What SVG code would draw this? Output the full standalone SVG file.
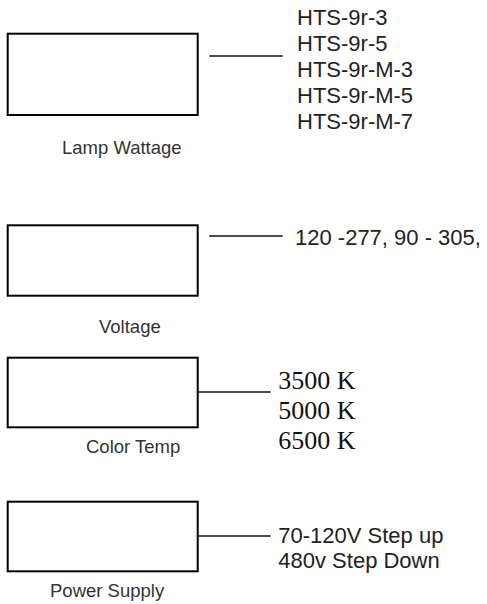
<svg xmlns="http://www.w3.org/2000/svg" width="487" height="604" viewBox="0 0 487 604">
<style>
.box{fill:#fff;stroke:#000;stroke-width:2}
.lbl{font-family:"Liberation Sans",Arial,sans-serif;font-size:18.5px;fill:#333}
.val{font-family:"Liberation Sans",Arial,sans-serif;font-size:22px;fill:#222}
.tmp{font-family:"Liberation Serif","Times New Roman",serif;font-size:26px;fill:#111}
.con{stroke:#111;stroke-width:1.4;fill:none}
</style>
<rect width="487" height="604" fill="#fff"/>
<g id="connectors">
<line class="con" x1="209.3" y1="56" x2="282.7" y2="56"/>
<line class="con" x1="209.3" y1="236" x2="282.7" y2="236"/>
<line class="con" x1="198.7" y1="392" x2="270.7" y2="392"/>
<line class="con" x1="198.7" y1="536" x2="270.7" y2="536"/>
</g>
<g id="lamp-wattage">
<rect class="box" x="7.7" y="33.7" width="190" height="81.3"/>
<text class="lbl" x="62" y="154">Lamp Wattage</text>
</g>
<g id="lamp-models">
<text class="val" x="297" y="25">HTS-9r-3</text>
<text class="val" x="297" y="51">HTS-9r-5</text>
<text class="val" x="297" y="77">HTS-9r-M-3</text>
<text class="val" x="297" y="103">HTS-9r-M-5</text>
<text class="val" x="297" y="128.5">HTS-9r-M-7</text>
</g>
<g id="voltage">
<rect class="box" x="7.7" y="225.3" width="190" height="70.4"/>
<text class="lbl" x="99" y="333">Voltage</text>
</g>
<g id="voltage-values">
<text class="val" x="295" y="245">120 -277, 90 - 305,</text>
</g>
<g id="color-temp">
<rect class="box" x="7.7" y="357.7" width="190" height="69.6"/>
<text class="lbl" x="86" y="453.3">Color Temp</text>
</g>
<g id="color-temp-values">
<text class="tmp" x="278.3" y="389.3">3500 K</text>
<text class="tmp" x="278.3" y="419">5000 K</text>
<text class="tmp" x="278.3" y="449">6500 K</text>
</g>
<g id="power-supply">
<rect class="box" x="7.7" y="501.7" width="190" height="69.6"/>
<text class="lbl" x="50" y="597">Power Supply</text>
</g>
<g id="power-supply-values">
<text class="val" x="278.3" y="543.3">70-120V Step up</text>
<text class="val" x="278.3" y="568.3">480v Step Down</text>
</g>
</svg>
